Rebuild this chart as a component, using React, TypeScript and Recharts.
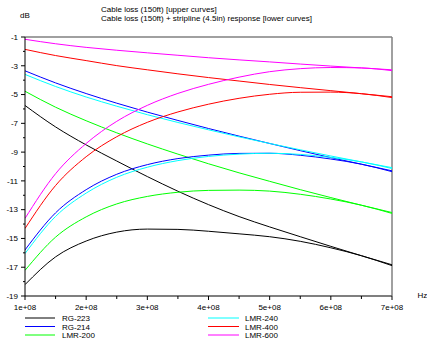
import React from "react";
import { LineChart, Line, XAxis, YAxis, ReferenceLine } from "recharts";

// Frequencies (Hz)
const freqs = [1e8, 1.5e8, 2e8, 2.5e8, 3e8, 3.5e8, 4e8, 4.5e8, 5e8, 5.5e8, 6e8, 6.5e8, 7e8];

// Cable loss (150ft) [upper curves], dB
const rg223Upper = [-5.76, -7.25, -8.5, -9.62, -10.7, -11.72, -12.65, -13.48, -14.2, -14.88, -15.55, -16.2, -16.83];
const rg214Upper = [-3.35, -4.19, -4.93, -5.6, -6.22, -6.8, -7.36, -7.89, -8.4, -8.9, -9.38, -9.84, -10.3];
const lmr200Upper = [-4.77, -5.88, -6.82, -7.66, -8.43, -9.14, -9.81, -10.44, -11.03, -11.61, -12.16, -12.69, -13.2];
const lmr240Upper = [-3.6, -4.44, -5.17, -5.81, -6.4, -6.94, -7.45, -7.94, -8.4, -8.84, -9.27, -9.68, -10.08];
const lmr400Upper = [-1.86, -2.29, -2.64, -2.99, -3.28, -3.56, -3.82, -4.06, -4.3, -4.52, -4.73, -4.94, -5.15];
const lmr600Upper = [-1.16, -1.47, -1.72, -1.92, -2.1, -2.27, -2.44, -2.59, -2.73, -2.88, -3.02, -3.15, -3.28];

// Cable loss + stripline (4.5in) response [lower curves], dB
const rg223Lower = [-18.21, -16.28, -15.18, -14.56, -14.35, -14.37, -14.5, -14.68, -14.88, -15.2, -15.65, -16.2, -16.89];
const rg214Lower = [-15.8, -13.22, -11.61, -10.54, -9.87, -9.45, -9.21, -9.09, -9.08, -9.22, -9.48, -9.84, -10.36];
const lmr200Lower = [-17.22, -14.91, -13.5, -12.6, -12.08, -11.79, -11.66, -11.64, -11.71, -11.93, -12.26, -12.69, -13.26];
const lmr240Lower = [-16.05, -13.47, -11.85, -10.75, -10.05, -9.59, -9.3, -9.14, -9.08, -9.16, -9.37, -9.68, -10.14];
const lmr400Lower = [-14.31, -11.32, -9.32, -7.93, -6.93, -6.21, -5.67, -5.26, -4.98, -4.84, -4.83, -4.94, -5.21];
const lmr600Lower = [-13.61, -10.5, -8.4, -6.86, -5.75, -4.92, -4.29, -3.79, -3.41, -3.2, -3.12, -3.15, -3.34];

const xTicks = [1e8, 1.5e8, 2e8, 2.5e8, 3e8, 3.5e8, 4e8, 4.5e8, 5e8, 5.5e8, 6e8, 6.5e8, 7e8];
const yTicks = [-19, -18, -17, -16, -15, -14, -13, -12, -11, -10, -9, -8, -7, -6, -5, -4, -3, -2, -1];

const titleLines = ["Cable loss (150ft) [upper curves]", "Cable loss (150ft) + stripline (4.5in) response [lower curves]"];

const series = [
  { name: "RG-223", color: "#000000", upper: rg223Upper, lower: rg223Lower },
  { name: "RG-214", color: "#0000ff", upper: rg214Upper, lower: rg214Lower },
  { name: "LMR-200", color: "#00ff00", upper: lmr200Upper, lower: lmr200Lower },
  { name: "LMR-240", color: "#00ffff", upper: lmr240Upper, lower: lmr240Lower },
  { name: "LMR-400", color: "#ff0000", upper: lmr400Upper, lower: lmr400Lower },
  { name: "LMR-600", color: "#ff00ff", upper: lmr600Upper, lower: lmr600Lower },
];

const data = freqs.map((f, i) => {
  const row: Record<string, number> = { f };
  series.forEach((s, k) => {
    row["u" + k] = s.upper[i];
    row["l" + k] = s.lower[i];
  });
  return row;
});

const W = 427;
const H = 344;
const L = 25;
const R = 392;
const T = 37;
const B = 296;
const FONT = "'Liberation Sans', Arial, sans-serif";

const YTick = (props: any) => {
  const { y, payload } = props;
  const v = payload.value;
  const major = (v + 1) % 2 === 0;
  return (
    <g>
      <line x1={L - (major ? 4 : 2)} x2={L} y1={y} y2={y} stroke="#000" strokeWidth={1} />
      {major && (
        <text x={L - 7} y={y} dy="0.35em" textAnchor="end" fontSize={8} fontFamily={FONT} fill="#000">
          {v}
        </text>
      )}
    </g>
  );
};

const XTick = (props: any) => {
  const { x, payload } = props;
  const v = payload.value;
  const n = v / 1e8;
  const major = Math.abs(n - Math.round(n)) < 1e-9;
  return (
    <g>
      <line x1={x} x2={x} y1={B} y2={B + (major ? 4 : 3)} stroke="#000" strokeWidth={1} />
      {major && (
        <text x={x} y={B + 13.5} textAnchor="middle" fontSize={8} fontFamily={FONT} fill="#000">
          {`${Math.round(n)}e+08`}
        </text>
      )}
    </g>
  );
};

const legendLeft = series.slice(0, 3);
const legendRight = series.slice(3);
const rowY = [318, 326.5, 335];

export default function App() {
  return (
    <div style={{ position: "absolute", left: 0, top: 0, width: W, height: H, background: "#fff" }}>
      <LineChart
        width={W}
        height={H}
        data={data}
        margin={{ top: T, right: W - R, bottom: 0, left: 0 }}
      >
        <XAxis
          dataKey="f"
          type="number"
          domain={[1e8, 7e8]}
          ticks={xTicks}
          height={H - B}
          tick={<XTick />}
          tickLine={false}
          axisLine={{ stroke: "#555", strokeWidth: 1.5 }}
          interval={0}
          allowDataOverflow
        />
        <YAxis
          type="number"
          domain={[-19, -1]}
          ticks={yTicks}
          width={L}
          tick={<YTick />}
          tickLine={false}
          axisLine={{ stroke: "#000", strokeWidth: 1 }}
          interval={0}
          allowDataOverflow
        />
        <ReferenceLine y={-1} stroke="#808080" strokeWidth={1.5} ifOverflow="extendDomain" />
        <ReferenceLine x={7e8} stroke="#808080" strokeWidth={1.5} ifOverflow="extendDomain" />
        {series.map((s, k) => (
          <Line
            key={"u" + k}
            dataKey={"u" + k}
            type="monotone"
            stroke={s.color}
            strokeWidth={1}
            dot={false}
            isAnimationActive={false}
          />
        ))}
        {series.map((s, k) => (
          <Line
            key={"l" + k}
            dataKey={"l" + k}
            type="monotone"
            stroke={s.color}
            strokeWidth={1}
            dot={false}
            isAnimationActive={false}
          />
        ))}
      </LineChart>
      <svg
        width={W}
        height={H}
        style={{ position: "absolute", left: 0, top: 0, pointerEvents: "none" }}
      >
        <text x={101} y={12.3} fontSize={8} fontFamily={FONT} fill="#000">{titleLines[0]}</text>
        <text x={101} y={20.6} fontSize={8} fontFamily={FONT} fill="#000">{titleLines[1]}</text>
        <text x={20} y={17.5} fontSize={8} fontFamily={FONT} fill="#000">dB</text>
        <text x={417.5} y={298} fontSize={8} fontFamily={FONT} fill="#000">Hz</text>
        {legendLeft.map((s, i) => (
          <g key={s.name}>
            <line x1={25} x2={55} y1={rowY[i]} y2={rowY[i]} stroke={s.color} strokeWidth={1} />
            <text x={62} y={rowY[i] + 3} fontSize={8} fontFamily={FONT} fill="#000">{s.name}</text>
          </g>
        ))}
        {legendRight.map((s, i) => (
          <g key={s.name}>
            <line x1={208} x2={239} y1={rowY[i]} y2={rowY[i]} stroke={s.color} strokeWidth={1} />
            <text x={245} y={rowY[i] + 3} fontSize={8} fontFamily={FONT} fill="#000">{s.name}</text>
          </g>
        ))}
      </svg>
    </div>
  );
}
